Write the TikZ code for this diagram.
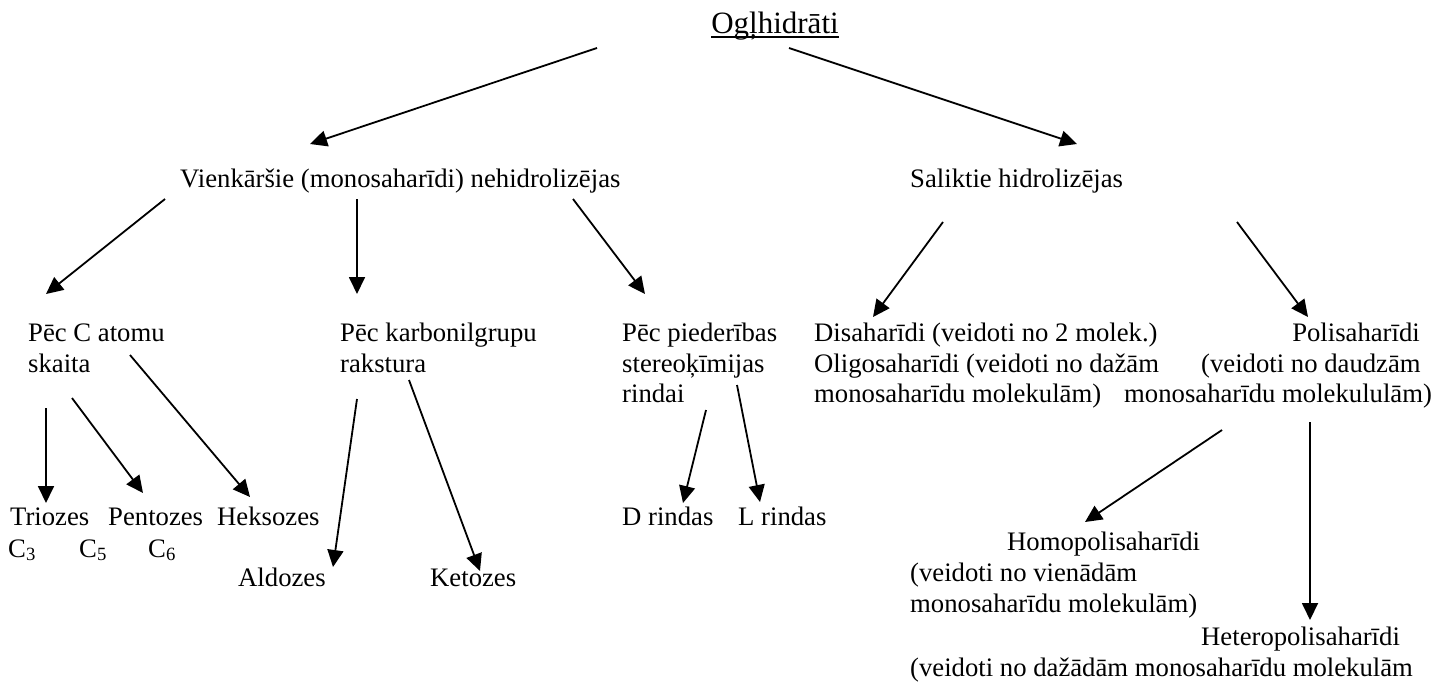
\documentclass[tikz,border=0pt]{standalone}
\usepackage{fontspec}
\setmainfont{Liberation Serif}
\usetikzlibrary{arrows.meta}
\begin{document}
\begin{tikzpicture}[x=1pt,y=-1pt,
  txt/.style={inner sep=0pt,anchor=base west,font=\fontsize{26.7}{31}\selectfont},
  txr/.style={inner sep=0pt,anchor=base east,font=\fontsize{26.7}{31}\selectfont},
  arr/.style={line width=1.8pt,-{Triangle[length=17pt,width=16pt]}}]
\useasboundingbox (0,0) rectangle (1443,681);
% title
\node[inner sep=0pt,anchor=base,font=\fontsize{31}{36}\selectfont] (t) at (775,33) {Ogļhidrāti};
\draw[line width=1.4pt] ([yshift=-4pt]t.base west) -- ([yshift=-4pt]t.base east);
% level 1
\node[txt] (v) at (180,187) {Vienkāršie (monosaharīdi) nehidrolizējas};
\node[txt] (s) at (910,187) {Saliktie hidrolizējas};
% level 2
\node[txt] (pc1) at (28,341) {Pēc C atomu};
\node[txt] (pc2) at (28,372) {skaita};
\node[txt] (pk1) at (340,341) {Pēc karbonilgrupu};
\node[txt] (pk2) at (340,372) {rakstura};
\node[txt] (pp1) at (622,341) {Pēc piederības};
\node[txt] (pp2) at (622,372) {stereoķīmijas};
\node[txt] (pp3) at (622,402) {rindai};
\node[txt] (d1) at (814,341) {Disaharīdi (veidoti no 2 molek.)};
\node[txt] (d2) at (814,372) {Oligosaharīdi (veidoti no dažām};
\node[txt] (d3) at (814,402) {monosaharīdu molekulām)};
\node[txr] (p1) at (1420,341) {Polisaharīdi};
\node[txt] (p2) at (1201,372) {(veidoti no daudzām};
\node[txt] (p3) at (1124,402) {monosaharīdu molekululām)};
% level 3
\node[txt] (tri) at (10,525) {Triozes};
\node[txt] (pen) at (108,525) {Pentozes};
\node[txt] (hek) at (217,525) {Heksozes};
\node[txt] (c3) at (8,557) {C\textsubscript{3}};
\node[txt] (c5) at (79,557) {C\textsubscript{5}};
\node[txt] (c6) at (148,557) {C\textsubscript{6}};
\node[txt] (ald) at (238,586) {Aldozes};
\node[txt] (ket) at (430,586) {Ketozes};
\node[txt] (dr) at (622,525) {D rindas};
\node[txt] (lr) at (738,525) {L rindas};
\node[txt] (h1) at (1007,550) {Homopolisaharīdi};
\node[txt] (h2) at (910,581) {(veidoti no vienādām};
\node[txt] (h3) at (910,612) {monosaharīdu molekulām)};
\node[txt] (e1) at (1201,645) {Heteropolisaharīdi};
\node[txt] (e2) at (910,676) {(veidoti no dažādām monosaharīdu molekulām};
% connector end points
\coordinate (a1s) at (597,48);   \coordinate (a1e) at (310,144);
\coordinate (a2s) at (789,48);   \coordinate (a2e) at (1077,144);
% arrows
\draw[arr] (a1s) -- (a1e);
\draw[arr] (a2s) -- (a2e);
\draw[arr] (165,199) -- (46,294);
\draw[arr] (357,199) -- (357,294);
\draw[arr] (573,199) -- (645,294);
\draw[arr] (943,222) -- (873,317);
\draw[arr] (1237,222) -- (1308,317);
\draw[arr] (46,408) -- (46,503);
\draw[arr] (72,398) -- (143,493);
\draw[arr] (130,355) -- (250,497);
\draw[arr] (357,399) -- (333,567);
\draw[arr] (409,380) -- (480,571);
\draw[arr] (706,410) -- (683,503);
\draw[arr] (737,385) -- (760,502);
\draw[arr] (1222,430) -- (1085,522);
\draw[arr] (1310,422) -- (1310,620);
\end{tikzpicture}
\end{document}
